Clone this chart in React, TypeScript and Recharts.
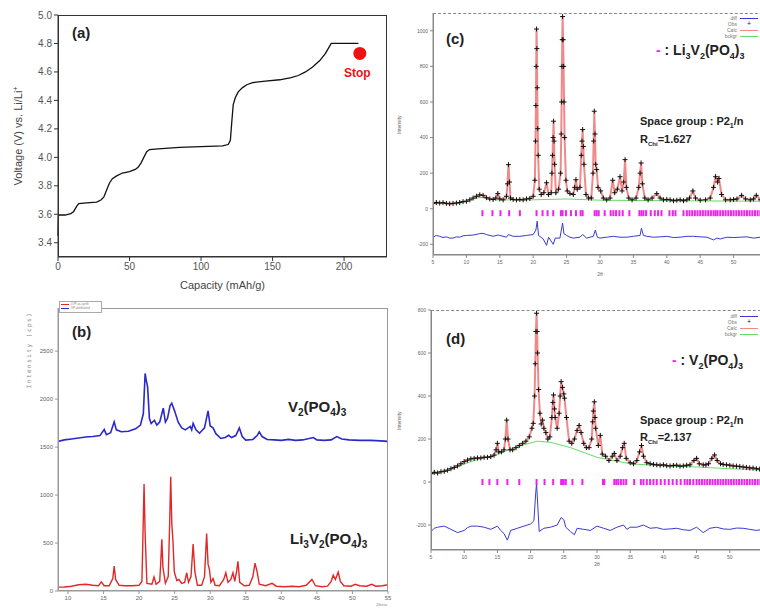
import React from 'react';
import { LineChart, Line, XAxis, YAxis, ComposedChart, Scatter, ReferenceDot, Label } from 'recharts';

// ---------- (a) charge curve ----------
const capacity = [0, 0.3, 1, 5, 9, 11, 13, 14.5, 20, 27, 30, 32, 34, 36, 38, 41, 45, 50, 54, 56, 58, 60, 62, 64, 70, 85, 100, 115, 119, 120.5, 121.5, 122.5, 124, 126, 129, 132, 136, 145, 155, 163, 168, 173, 178, 183, 187, 191, 200, 210];
const voltage = [3.45, 3.59, 3.595, 3.595, 3.605, 3.62, 3.655, 3.675, 3.68, 3.685, 3.7, 3.72, 3.77, 3.82, 3.85, 3.87, 3.89, 3.9, 3.915, 3.93, 3.96, 4.0, 4.04, 4.055, 4.06, 4.07, 4.075, 4.08, 4.09, 4.12, 4.25, 4.37, 4.42, 4.46, 4.49, 4.51, 4.525, 4.535, 4.545, 4.56, 4.575, 4.6, 4.635, 4.68, 4.73, 4.8, 4.8, 4.8];
const stopPoint = { x: 211, y: 4.73 };
const aXTicks = [0, 50, 100, 150, 200];
const aYTicks = [3.4, 3.6, 3.8, 4.0, 4.2, 4.4, 4.6, 4.8, 5.0];

// ---------- (b) XRD patterns ----------
const bRed: number[][] = [[8.6,40],[9.5,42],[10.5,50],[11.5,65],[12.5,70],[13.5,60],[14.3,55],[14.7,95],[15.1,55],[15.8,55],[16.3,130],[16.5,260],[16.7,120],[17.2,60],[18,55],[19,55],[20,60],[20.4,100],[20.55,600],[20.7,1115],[20.85,600],[21.1,80],[21.8,70],[22.1,146],[22.4,70],[22.9,100],[23.05,300],[23.2,540],[23.35,250],[23.7,80],[24.1,150],[24.3,700],[24.45,1190],[24.6,700],[24.75,540],[24.95,200],[25.3,110],[25.6,120],[26,80],[26.4,90],[26.7,190],[26.95,90],[27.3,150],[27.6,490],[27.85,200],[28.2,60],[28.8,60],[29.2,150],[29.5,600],[29.7,280],[29.9,220],[30.1,90],[30.4,130],[30.7,60],[31.3,55],[31.9,120],[32.2,190],[32.5,90],[32.9,120],[33.2,190],[33.45,100],[33.7,200],[33.9,310],[34.15,90],[34.8,55],[35.5,60],[36,150],[36.3,290],[36.6,200],[36.9,70],[37.8,55],[38.7,80],[39.3,50],[40.5,45],[41.5,50],[42.5,45],[43.5,60],[44.3,120],[44.8,55],[45.7,45],[46.5,50],[47,100],[47.3,165],[47.6,120],[48,196],[48.3,100],[48.8,55],[49.8,50],[50.4,70],[51,55],[52,50],[52.7,70],[53.3,50],[54.2,55],[55,65]];
const bBlue: number[][] = [[8.6,1560],[9.5,1575],[10.5,1585],[11.5,1595],[12.5,1605],[13.5,1610],[14.5,1620],[15.1,1684],[15.4,1630],[16,1650],[16.5,1764],[16.8,1680],[17.5,1660],[18.5,1665],[19.5,1690],[20.2,1730],[20.6,1850],[20.85,2268],[21.0,2200],[21.2,2128],[21.45,1800],[21.7,1746],[22.15,1780],[22.5,1730],[22.9,1760],[23.4,1906],[23.7,1760],[24.0,1800],[24.35,1930],[24.6,1958],[25.0,1875],[25.5,1760],[26,1700],[26.5,1680],[27.2,1716],[27.4,1680],[27.6,1747],[28,1680],[28.5,1645],[29.2,1700],[29.7,1878],[30,1720],[30.4,1700],[30.8,1640],[31.5,1590],[32.1,1600],[32.6,1623],[33,1600],[33.6,1620],[34.1,1700],[34.5,1610],[35,1573],[36,1580],[36.6,1620],[36.9,1660],[37.3,1610],[38,1580],[39,1575],[40,1570],[41,1580],[42,1570],[43,1575],[44.5,1600],[45,1575],[46,1570],[47,1575],[47.8,1610],[48.5,1585],[49.5,1575],[51,1570],[52.5,1570],[54,1565],[55,1560]];
const bXTicks = [10, 15, 20, 25, 30, 35, 40, 45, 50, 55];
const bYTicks = [0, 500, 1000, 1500, 2000, 2500];

// ---------- (c) Rietveld Li3V2(PO4)3 ----------
const cObs: number[][] = [[5,30],[5.5,35],[6,32],[6.5,34],[7,30],[7.5,28],[8,30],[8.5,32],[9,35],[9.5,40],[10,42],[10.5,50],[11,60],[11.5,70],[12,78],[12.5,75],[13,62],[13.5,55],[14,52],[14.4,60],[14.7,85],[15,55],[15.5,50],[16,70],[16.15,140],[16.3,248],[16.45,150],[16.6,60],[17,52],[17.5,50],[18,52],[18.5,50],[19,55],[19.5,58],[20,70],[20.25,160],[20.35,380],[20.4,580],[20.45,800],[20.5,1010],[20.55,900],[20.6,680],[20.68,450],[20.75,300],[20.9,110],[21.2,80],[21.6,90],[22,146],[22.3,80],[22.7,90],[22.8,200],[22.9,300],[22.98,400],[23.05,492],[23.12,380],[23.2,250],[23.4,90],[23.8,110],[24.1,200],[24.2,420],[24.25,600],[24.3,800],[24.35,950],[24.4,1080],[24.48,950],[24.55,800],[24.62,600],[24.7,400],[24.9,160],[25.1,100],[25.5,85],[26,80],[26.2,120],[26.4,163],[26.6,110],[27,120],[27.2,300],[27.3,380],[27.4,445],[27.5,350],[27.6,250],[27.9,80],[28.3,60],[28.7,60],[28.95,200],[29.05,380],[29.15,548],[29.25,420],[29.35,250],[29.5,220],[29.7,120],[30.1,100],[30.5,60],[31,50],[31.5,60],[31.9,160],[32.2,90],[32.6,110],[33,180],[33.3,100],[33.55,150],[33.75,276],[33.95,120],[34.3,60],[34.8,50],[35.4,60],[35.8,120],[36,200],[36.15,257],[36.35,140],[36.7,60],[37.2,50],[37.8,60],[38.5,85],[39,60],[39.5,50],[40,52],[40.5,50],[41,45],[41.5,48],[42,50],[42.5,45],[43,50],[43.4,60],[43.9,100],[44.3,60],[45,48],[45.8,50],[46.5,60],[47,120],[47.3,180],[47.6,150],[47.8,170],[48.2,80],[48.8,50],[49.5,50],[50,52],[50.5,55],[51.2,75],[51.8,55],[52.5,50],[53,55],[53.4,75],[54,50],[54.5,48],[55,45]];
const cBkg: number[][] = [[5,30],[8,30],[10,42],[12,65],[14,50],[20,50],[25,55],[30,48],[40,45],[55,42]];
const cDiff: number[][] = [[5,-160],[5.5,-150],[6,-155],[6.5,-162],[7,-158],[7.5,-165],[8,-165],[8.5,-158],[9,-160],[9.5,-152],[10,-150],[11,-148],[12,-140],[12.5,-138],[13,-145],[14,-155],[14.7,-148],[15,-150],[16,-160],[16.3,-145],[17,-155],[18,-155],[19,-150],[20,-145],[20.4,-120],[20.6,-70],[20.8,-150],[21.5,-170],[22,-206],[22.3,-160],[23,-200],[23.3,-165],[24,-165],[24.4,-80],[24.6,-140],[25,-150],[25.5,-160],[26,-165],[27,-160],[27.4,-145],[28,-165],[29,-155],[29.3,-120],[29.6,-160],[30,-165],[31,-160],[32,-155],[33,-160],[34,-160],[35,-155],[36,-150],[36.2,-110],[36.5,-150],[37,-155],[38,-160],[39,-158],[40,-155],[41,-162],[42,-160],[43,-155],[44,-155],[45,-158],[46,-160],[47,-175],[47.5,-165],[48,-170],[49,-160],[50,-162],[51,-160],[52,-158],[53,-165],[54,-160],[55,-160]];
const cHkl = [12.4,13.9,15.1,16.4,18.0,20.5,21.4,22.15,23.0,24.15,24.4,24.9,25.65,26.4,27.1,27.4,29.2,29.5,29.8,30.7,31.6,32.0,32.4,32.9,33.4,34.4,35.9,36.2,36.5,36.9,37.6,38.2,38.7,39.2,40.4,40.9,41.3,42.5,43.0,43.4,43.8,44.2,44.6,45.0,45.4,45.8,46.2,46.6,47.0,47.3,47.6,48.0,48.4,48.8,49.2,49.6,50.0,50.4,50.8,51.2,51.6,52.0,52.4,52.8,53.2,53.6,54.0,54.4,54.8];
const cYTicks = [-200, 0, 200, 400, 600, 800, 1000];

// ---------- (d) Rietveld V2(PO4)3 ----------
const dObs: number[][] = [[5,40],[5.5,45],[6,42],[6.5,48],[7,50],[7.5,55],[8,62],[8.5,68],[9,75],[9.5,85],[10,95],[10.5,102],[11,108],[11.5,110],[12,112],[12.5,112],[13,115],[13.5,115],[14,118],[14.5,125],[14.8,150],[15,180],[15.2,140],[15.6,140],[16,150],[16.2,200],[16.4,288],[16.6,200],[16.9,150],[17.3,150],[17.8,160],[18.3,170],[18.8,180],[19.3,190],[19.8,210],[20.2,250],[20.4,273],[20.6,400],[20.7,550],[20.8,700],[20.9,785],[20.98,700],[21.05,600],[21.2,430],[21.4,320],[21.6,270],[21.8,288],[22,250],[22.3,230],[22.6,200],[22.9,210],[23.2,300],[23.35,370],[23.45,405],[23.6,340],[23.7,300],[24,250],[24.3,320],[24.45,400],[24.6,467],[24.8,440],[25.0,410],[25.1,390],[25.4,300],[25.8,190],[26.2,180],[26.6,200],[27,240],[27.3,263],[27.6,230],[28,180],[28.4,160],[28.8,160],[29.2,200],[29.35,280],[29.45,330],[29.6,373],[29.7,300],[29.8,250],[30.2,170],[30.5,217],[30.8,130],[31.3,120],[31.8,100],[32.3,120],[32.6,133],[33,100],[33.5,120],[33.85,160],[34.1,180],[34.4,110],[35,90],[35.5,85],[36,100],[36.4,140],[36.7,170],[37,120],[37.5,90],[38,85],[38.5,82],[39,80],[39.5,78],[40,80],[40.5,76],[41,75],[41.5,77],[42,78],[42.5,74],[43,75],[43.5,78],[44,80],[44.6,100],[45,110],[45.4,85],[46,80],[46.4,80],[46.8,85],[47.3,110],[47.7,126],[48.1,100],[48.6,85],[49,82],[49.5,80],[50,78],[50.5,75],[51,74],[51.5,72],[52,70],[52.5,68],[53,66],[53.5,65],[54,62],[54.5,60],[55,60]];
const dBkg: number[][] = [[5,35],[8,60],[11,95],[15,130],[18,165],[21,190],[23,185],[26,160],[30,115],[35,85],[40,75],[45,70],[50,62],[55,55]];
const dDiff: number[][] = [[5,-230],[5.5,-215],[6,-210],[7,-205],[8,-220],[9,-235],[10,-225],[10.5,-212],[11,-205],[12,-205],[13,-210],[14,-220],[15,-205],[15.5,-225],[16,-240],[16.5,-270],[17,-225],[18,-215],[19,-205],[20,-195],[20.5,-180],[20.75,-60],[20.9,-5],[21.1,-120],[21.3,-230],[22,-215],[23,-210],[24,-200],[24.6,-165],[25,-175],[25.3,-210],[26,-230],[26.6,-245],[27,-215],[28,-220],[29,-225],[30,-205],[31,-215],[32,-225],[33,-210],[34,-200],[34.5,-220],[35,-210],[36,-210],[37,-200],[38,-215],[39,-212],[40,-220],[41,-218],[42,-215],[43,-222],[44,-225],[45,-210],[46,-235],[47,-215],[48,-210],[49,-218],[50,-220],[51,-214],[52,-215],[53,-220],[54,-225],[55,-220]];
const dHkl = [12.75,13.8,14.99,16.5,18.3,20.9,22.1,23.4,24.6,24.8,25.0,25.3,26.3,27.8,30.9,31.1,32.6,32.9,33.2,33.6,34.0,34.4,35.6,36.6,37.0,37.5,38.0,38.5,39.0,39.6,40.2,40.8,41.4,42.0,42.6,43.2,43.6,44.0,44.5,45.0,45.4,45.8,46.2,46.6,47.0,47.4,47.8,48.2,48.6,49.0,49.4,49.8,50.2,50.6,51.0,51.4,51.8,52.2,52.6,53.0,53.4,53.8,54.2,54.6];
const dYTicks = [-200, 0, 200, 400, 600, 800];

const xrdXTicks = [5, 10, 15, 20, 25, 30, 35, 40, 45, 50];

const toXY = (arr: number[][]) => arr.map(([x, y]) => ({ x, y }));
const FONT = 'Arial, "Liberation Sans", sans-serif';

const Cross = (props: any) => {
  const { cx, cy } = props;
  if (cx == null || cy == null) return null;
  return <path d={`M${cx - 2.5},${cy}h5M${cx},${cy - 2.5}v5`} stroke="#111" strokeWidth={1} fill="none" />;
};
const Bar = (props: any) => {
  const { cx, cy } = props;
  if (cx == null || cy == null) return null;
  return <rect x={cx - 1} y={cy - 3} width={2} height={6} fill="#ee22ee" />;
};

const abs = (l: number, t: number, extra: React.CSSProperties = {}): React.CSSProperties => ({ position: 'absolute', left: l, top: t, ...extra });

function Rietveld(props: { obs: number[][]; bkg: number[][]; diff: number[][]; hkl: number[]; hklY: number; yDomain: [number, number]; yTicks: number[]; width: number; height: number; margin: any; yWidth: number; xHeight: number }) {
  const { obs, bkg, diff, hkl, hklY, yDomain, yTicks, width, height, margin, yWidth, xHeight } = props;
  const tickStyle = { fontSize: 5, fill: '#666', fontFamily: FONT };
  return (
    <ComposedChart width={width} height={height} margin={margin}>
      <XAxis dataKey="x" type="number" domain={[5, 55]} ticks={xrdXTicks} allowDataOverflow tick={tickStyle} tickSize={3} height={xHeight} stroke="#888">
        <Label value="2θ" position="insideBottom" offset={14} style={{ fontSize: 5, fill: '#666', fontFamily: FONT }} />
      </XAxis>
      <YAxis dataKey="y" type="number" domain={yDomain} ticks={yTicks} allowDataOverflow tick={tickStyle} tickSize={3} width={yWidth} stroke="#888">
        <Label value="Intensity" angle={-90} position="insideLeft" offset={4} style={{ fontSize: 5, fill: '#666', fontFamily: FONT }} />
      </YAxis>
      <Line data={toXY(obs)} dataKey="y" stroke="#f08a8a" strokeWidth={2} dot={false} isAnimationActive={false} />
      <Scatter data={toXY(obs)} dataKey="y" shape={Cross} isAnimationActive={false} />
      <Line data={toXY(bkg)} dataKey="y" stroke="#66dd66" strokeWidth={1} dot={false} isAnimationActive={false} />
      <Line data={toXY(diff)} dataKey="y" stroke="#3a3ad0" strokeWidth={1} dot={false} isAnimationActive={false} />
      <Scatter data={hkl.map((x) => ({ x, y: hklY }))} dataKey="y" shape={Bar} isAnimationActive={false} />
    </ComposedChart>
  );
}

function RietLegend({ left, top }: { left: number; top: number }) {
  const row = (label: string, color: string, cross: boolean) => (
    <div key={label} style={{ display: 'flex', alignItems: 'center', justifyContent: 'flex-end', height: 6, lineHeight: '6px' }}>
      <span style={{ fontSize: 5, color: '#777', marginRight: 3, lineHeight: '6px' }}>{label}</span>
      {cross ? <span style={{ width: 18, textAlign: 'center', fontSize: 7, color: '#224', lineHeight: '6px' }}>+</span> : <span style={{ width: 18, height: 1, background: color, display: 'inline-block' }} />}
    </div>
  );
  return (
    <div style={abs(left, top, { width: 48, fontFamily: FONT })}>
      {row('diff', '#3a3ad0', false)}
      {row('Obs', '#000', true)}
      {row('Calc', '#f08a8a', false)}
      {row('bckgr', '#66dd66', false)}
    </div>
  );
}

export default function App() {
  const aData = capacity.map((c, i) => ({ x: c, y: voltage[i] }));
  const bold: React.CSSProperties = { fontFamily: FONT, fontWeight: 'bold', color: '#222', whiteSpace: 'nowrap' };
  return (
    <div style={{ position: 'absolute', left: 0, top: 0, width: 760, height: 610, overflow: 'hidden', background: '#fff', fontFamily: FONT }}>
      {/* (a) */}
      <div style={abs(0, 0)}>
        <LineChart width={400} height={295} margin={{ top: 15, right: 13, bottom: 0, left: 0 }}>
          <XAxis dataKey="x" type="number" domain={[0, 230]} ticks={aXTicks} tick={{ fontSize: 10, fill: '#555', fontFamily: FONT }} tickSize={4} height={38} stroke="#333">
            <Label value="Capacity (mAh/g)" position="insideBottom" offset={6} style={{ fontSize: 11, fill: '#444', fontFamily: FONT }} />
          </XAxis>
          <YAxis dataKey="y" type="number" domain={[3.3, 5.0]} ticks={aYTicks} tickFormatter={(v: number) => v.toFixed(1)} tick={{ fontSize: 10, fill: '#555', fontFamily: FONT }} tickSize={4} width={58} stroke="#333" />
          <Line data={aData} dataKey="y" stroke="#111" strokeWidth={1.3} dot={false} isAnimationActive={false} />
          <ReferenceDot x={stopPoint.x} y={stopPoint.y} r={6.5} fill="#ee1111" stroke="none" />
        </LineChart>
      </div>
      <div style={abs(58, 15, { width: 329, height: 242, border: '1px solid #333', boxSizing: 'border-box', pointerEvents: 'none' })} />
      <div style={abs(18, 136, { transform: 'translate(-50%,-50%) rotate(-90deg)', fontSize: 11, color: '#444', whiteSpace: 'nowrap' })}>
        Voltage (V) vs. Li/Li<sup style={{ fontSize: 7 }}>+</sup>
      </div>
      <div style={abs(72, 24, { ...bold, fontSize: 15 })}>(a)</div>
      <div style={abs(344, 66, { ...bold, fontSize: 12, color: '#ee1111' })}>Stop</div>

      {/* (b) */}
      <div style={abs(0, 300)}>
        <LineChart width={400} height={310} margin={{ top: 8, right: 12, bottom: 0, left: 0 }}>
          <XAxis dataKey="x" type="number" domain={[8.6, 55]} ticks={bXTicks} allowDataOverflow tick={{ fontSize: 6, fill: '#666', fontFamily: FONT }} tickSize={3} height={19} stroke="#999" />
          <YAxis dataKey="y" type="number" domain={[0, 2950]} ticks={bYTicks} tick={{ fontSize: 6, fill: '#666', fontFamily: FONT }} tickSize={3} width={58} stroke="#999" />
          <Line data={toXY(bBlue)} dataKey="y" stroke="#2a2ac8" strokeWidth={1.6} dot={false} isAnimationActive={false} />
          <Line data={toXY(bRed)} dataKey="y" stroke="#e02828" strokeWidth={1.4} dot={false} isAnimationActive={false} />
        </LineChart>
      </div>
      <div style={abs(58, 308, { width: 330, height: 283, border: '1px solid #999', boxSizing: 'border-box', pointerEvents: 'none' })} />
      <div style={abs(59, 301, { width: 40, height: 10, border: '1px solid #aaa', background: '#fff', fontSize: 3, color: '#888', lineHeight: '4px', paddingLeft: 1 })}>
        <div><span style={{ display: 'inline-block', width: 8, height: 1, background: '#e02828', verticalAlign: 'middle', marginRight: 2 }} />LVP-as-synth</div>
        <div><span style={{ display: 'inline-block', width: 8, height: 1, background: '#2a2ac8', verticalAlign: 'middle', marginRight: 2 }} />VP-delithiated</div>
      </div>
      <div style={abs(28, 350, { transform: 'translate(-50%,-50%) rotate(-90deg)', fontSize: 6, color: '#888', whiteSpace: 'nowrap', fontFamily: '"DejaVu Sans Mono", monospace', letterSpacing: 1.5 })}>Intensity (cps)</div>
      <div style={abs(376, 602, { fontSize: 4, color: '#888' })}>2theta</div>
      <div style={abs(72, 323, { ...bold, fontSize: 15 })}>(b)</div>
      <div style={abs(288, 398, { ...bold, fontSize: 15 })}>V<sub style={{ fontSize: 10 }}>2</sub>(PO<sub style={{ fontSize: 10 }}>4</sub>)<sub style={{ fontSize: 10 }}>3</sub></div>
      <div style={abs(290, 530, { ...bold, fontSize: 15 })}>Li<sub style={{ fontSize: 10 }}>3</sub>V<sub style={{ fontSize: 10 }}>2</sub>(PO<sub style={{ fontSize: 10 }}>4</sub>)<sub style={{ fontSize: 10 }}>3</sub></div>

      {/* (c) */}
      <div style={abs(395, 0)}>
        <Rietveld obs={cObs} bkg={cBkg} diff={cDiff} hkl={cHkl} hklY={-25} yDomain={[-260, 1100]} yTicks={cYTicks} width={380} height={290} margin={{ top: 13, right: 8, bottom: 0, left: 0 }} yWidth={38} xHeight={35} />
      </div>
      <div style={abs(433, 13, { width: 340, height: 242, border: '1px solid #888', borderTopStyle: 'dashed', boxSizing: 'border-box', pointerEvents: 'none' })} />
      <RietLegend left={710} top={15} />
      <div style={abs(446, 30, { ...bold, fontSize: 15 })}>(c)</div>
      <div style={abs(656, 42, { ...bold, fontSize: 14 })}><span style={{ color: '#ee22ee' }}>-</span> : Li<sub style={{ fontSize: 9 }}>3</sub>V<sub style={{ fontSize: 9 }}>2</sub>(PO<sub style={{ fontSize: 9 }}>4</sub>)<sub style={{ fontSize: 9 }}>3</sub></div>
      <div style={abs(640, 115, { ...bold, fontSize: 11 })}>Space group : P2<sub style={{ fontSize: 7 }}>1</sub>/n</div>
      <div style={abs(640, 133, { ...bold, fontSize: 11 })}>R<sub style={{ fontSize: 6 }}>Chi</sub>=1.627</div>

      {/* (d) */}
      <div style={abs(395, 300)}>
        <Rietveld obs={dObs} bkg={dBkg} diff={dDiff} hkl={dHkl} hklY={0} yDomain={[-316, 800]} yTicks={dYTicks} width={380} height={280} margin={{ top: 10, right: 12, bottom: 0, left: 0 }} yWidth={36} xHeight={30} />
      </div>
      <div style={abs(431, 310, { width: 340, height: 240, border: '1px solid #888', borderTopStyle: 'dashed', boxSizing: 'border-box', pointerEvents: 'none' })} />
      <RietLegend left={710} top={313} />
      <div style={abs(446, 330, { ...bold, fontSize: 15 })}>(d)</div>
      <div style={abs(672, 352, { ...bold, fontSize: 14 })}><span style={{ color: '#ee22ee' }}>-</span> : V<sub style={{ fontSize: 9 }}>2</sub>(PO<sub style={{ fontSize: 9 }}>4</sub>)<sub style={{ fontSize: 9 }}>3</sub></div>
      <div style={abs(640, 414, { ...bold, fontSize: 11 })}>Space group : P2<sub style={{ fontSize: 7 }}>1</sub>/n</div>
      <div style={abs(640, 431, { ...bold, fontSize: 11 })}>R<sub style={{ fontSize: 6 }}>Chi</sub>=2.137</div>
    </div>
  );
}
